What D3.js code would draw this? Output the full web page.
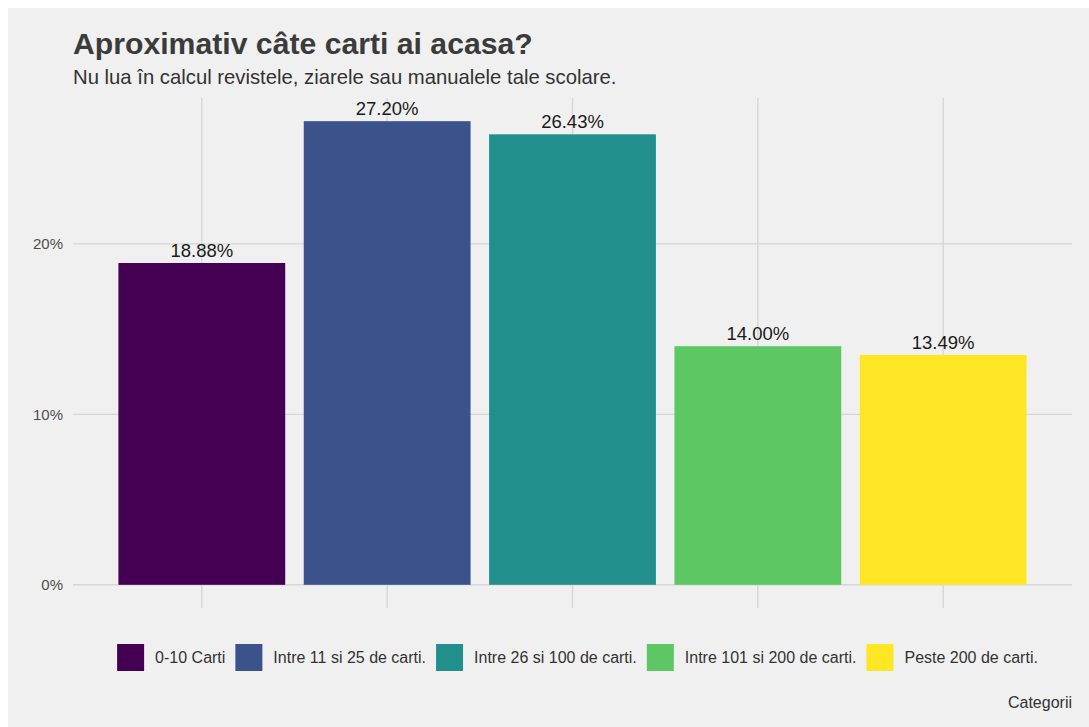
<!DOCTYPE html>
<html>
<head>
<meta charset="utf-8">
<script src="https://cdn.jsdelivr.net/npm/d3@7"></script>
<style>
  html, body { margin: 0; padding: 0; background: #ffffff; }
  svg { display: block; font-family: "Liberation Sans", Arial, sans-serif; }
</style>
</head>
<body>
<svg id="chart" width="1089" height="727"></svg>
<script>
// Survey shares: how many books are at home
const categories = ["0-10 Carti", "Intre 11 si 25 de carti.", "Intre 26 si 100 de carti.", "Intre 101 si 200 de carti.", "Peste 200 de carti."];
const shares = [18.88, 27.20, 26.43, 14.00, 13.49];
const colors = ["#440154", "#3B528B", "#21908C", "#5DC863", "#FDE725"];
const yTicks = [0, 10, 20];

const title = "Aproximativ câte carti ai acasa?";
const subtitle = "Nu lua în calcul revistele, ziarele sau manualele tale scolare.";
const caption = "Categorii";

const svg = d3.select("#chart");
const W = 1089, H = 727;

// plot background
svg.append("rect").attr("x", 8).attr("y", 8).attr("width", W - 8).attr("height", H - 8).attr("fill", "#f0f0f0");

const panel = { left: 73, right: 1072, top: 98, bottom: 608 };

// discrete x axis with extra room at both ends
const x = d3.scaleBand()
  .domain(categories)
  .range([panel.left, panel.right])
  .paddingInner(0.1)
  .paddingOuter(0.245);

const maxV = d3.max(shares);
const y = d3.scaleLinear()
  .domain([-maxV * 0.05, maxV * 1.05])
  .range([panel.bottom, panel.top]);

const grid = svg.append("g");
// horizontal gridlines
grid.selectAll("line.h").data(yTicks).join("line")
  .attr("x1", panel.left).attr("x2", panel.right)
  .attr("y1", d => y(d)).attr("y2", d => y(d))
  .attr("stroke", "#d6d6d6").attr("stroke-width", 1.4);
// vertical gridlines at category centres
grid.selectAll("line.v").data(categories).join("line")
  .attr("x1", d => x(d) + x.bandwidth() / 2).attr("x2", d => x(d) + x.bandwidth() / 2)
  .attr("y1", panel.top).attr("y2", panel.bottom)
  .attr("stroke", "#d6d6d6").attr("stroke-width", 1.4);

// y axis labels
const yAxis = d3.axisLeft(y).tickValues(yTicks).tickFormat(d => d + "%").tickSize(0).tickPadding(0);
const ya = svg.append("g").attr("transform", `translate(${panel.left - 10},0)`).call(yAxis);
ya.attr("font-size", null).attr("font-family", null);
ya.select(".domain").remove();
ya.selectAll("text").attr("fill", "#4d4d4d").style("font-size", "15px");

// bars
svg.append("g").selectAll("rect").data(categories).join("rect")
  .attr("x", d => x(d))
  .attr("width", x.bandwidth())
  .attr("y", (d, i) => y(shares[i]))
  .attr("height", (d, i) => y(0) - y(shares[i]))
  .attr("fill", (d, i) => colors[i]);

// value labels
svg.append("g").selectAll("text").data(categories).join("text")
  .attr("x", d => x(d) + x.bandwidth() / 2)
  .attr("y", (d, i) => y(shares[i]) - 6)
  .attr("text-anchor", "middle")
  .style("font-size", "18.5px")
  .attr("fill", "#1a1a1a")
  .text((d, i) => shares[i].toFixed(2) + "%");

// title & subtitle
svg.append("text").attr("x", panel.left).attr("y", 54)
  .style("font-size", "30.2px").attr("font-weight", "bold").attr("fill", "#3b3b3b").text(title);
svg.append("text").attr("x", panel.left).attr("y", 84)
  .style("font-size", "20.3px").attr("fill", "#333333").text(subtitle);

// legend, laid out horizontally and centred
const legend = svg.append("g");
const key = 27, gapText = 11, gapItem = 10, legY = 644;
const items = legend.selectAll("g").data(categories).join("g");
items.append("rect").attr("width", key).attr("height", key)
  .attr("fill", (d, i) => colors[i]);
items.append("text").attr("x", key + gapText).attr("y", key / 2).attr("dy", "0.35em")
  .style("font-size", "16px").attr("fill", "#333333").text(d => d);
let cx = 0;
const offsets = [];
items.each(function () {
  offsets.push(cx);
  const tw = d3.select(this).select("text").node().getComputedTextLength();
  cx += key + gapText + tw + gapItem;
});
const totalW = cx - gapItem;
const startX = 577.5 - totalW / 2;
items.attr("transform", (d, i) => `translate(${startX + offsets[i]},${legY})`);

// caption
svg.append("text").attr("x", panel.right).attr("y", 708).attr("text-anchor", "end")
  .style("font-size", "16px").attr("fill", "#333333").text(caption);
</script>
</body>
</html>
